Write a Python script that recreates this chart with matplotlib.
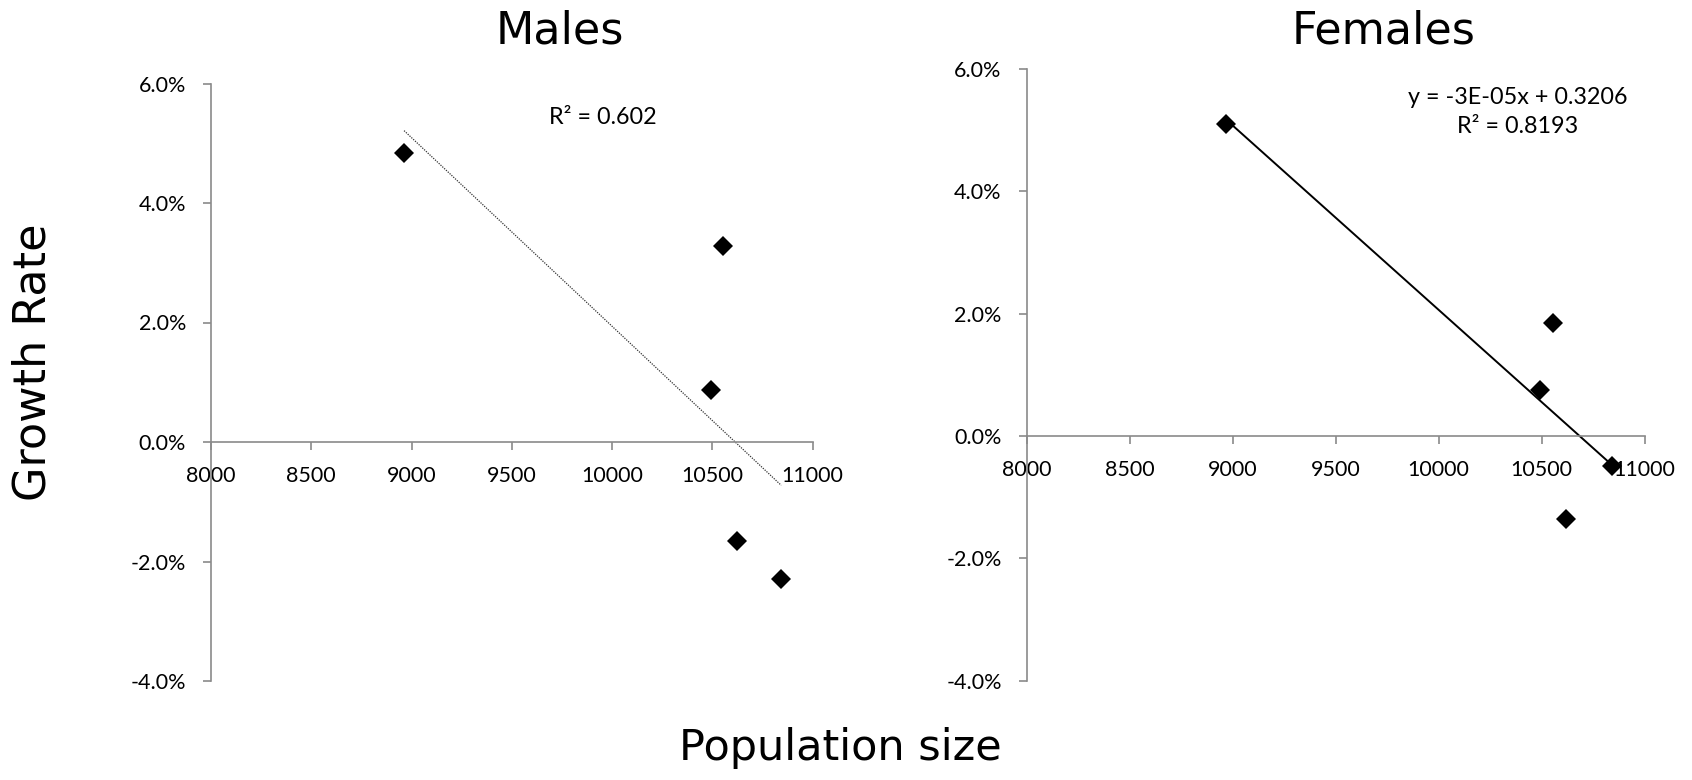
import numpy as np
import matplotlib
matplotlib.use("Agg")
import matplotlib.pyplot as plt
from matplotlib.ticker import PercentFormatter

plt.rcParams['font.family'] = ['Lato', 'DejaVu Sans']
plt.rcParams['axes.unicode_minus'] = False

# population size vs growth rate
male_pop = [8963, 10493, 10556, 10621, 10844]
male_growth = [0.0484, 0.0087, 0.0328, -0.0166, -0.0230]
female_pop = [8969, 10492, 10556, 10618, 10843]
female_growth = [0.0510, 0.0075, 0.0184, -0.0135, -0.0049]

male_label = "R² = 0.602"
female_label = "y = -3E-05x + 0.3206\nR² = 0.8193"

x_ticks = [8000, 8500, 9000, 9500, 10000, 10500, 11000]
y_ticks = [-0.04, -0.02, 0.0, 0.02, 0.04, 0.06]

W, H = 1692, 780
fig = plt.figure(figsize=(W / 100, H / 100), dpi=100)

axis_col = "#8a8a8a"


def box(l, r, t, b):
    return [l / W, 1 - b / H, (r - l) / W, (b - t) / H]


def style(ax):
    ax.set_xlim(8000, 11000)
    ax.set_ylim(-0.04, 0.06)
    ax.set_xticks(x_ticks)
    ax.set_yticks(y_ticks)
    ax.yaxis.set_major_formatter(PercentFormatter(xmax=1, decimals=1))
    ax.spines['top'].set_visible(False)
    ax.spines['right'].set_visible(False)
    ax.spines['bottom'].set_position(('data', 0))
    for s in ('left', 'bottom'):
        ax.spines[s].set_color(axis_col)
        ax.spines[s].set_linewidth(1.2)
    ax.tick_params(axis='y', direction='out', length=6, width=1.2, color=axis_col,
                   pad=12, labelsize=15.5)
    ax.tick_params(axis='x', direction='out', length=6, width=1.2, color=axis_col,
                   pad=11, labelsize=15.5)


def trend(ax, x, y, **kw):
    k, b = np.polyfit(x, y, 1)
    xs = np.array([min(x), max(x)])
    ax.plot(xs, k * xs + b, **kw)


ax1 = fig.add_axes(box(211, 812.5, 83.5, 681))
style(ax1)
trend(ax1, male_pop, male_growth, color="#333333", lw=0.9, ls=(0, (1, 1)), zorder=2)
ax1.plot(male_pop, male_growth, ls='none', marker='D', ms=10, color='black', mew=0, zorder=3)

ax2 = fig.add_axes(box(1026.7, 1644.7, 69, 680.6))
style(ax2)
trend(ax2, female_pop, female_growth, color="black", lw=1.4, zorder=2)
ax2.plot(female_pop, female_growth, ls='none', marker='D', ms=10, color='black', mew=0, zorder=3)

# trendline labels
fig.text(603 / W, 1 - 118 / H, male_label, fontsize=16.8, ha='center', va='center')
fig.text(1518 / W, 1 - 112 / H, female_label, fontsize=16.8, ha='center', va='center',
         linespacing=1.45)

fig.text(560 / W, 1 - 31 / H, "Males", fontsize=32, family='DejaVu Sans', ha='center', va='center')
fig.text(1384 / W, 1 - 31 / H, "Females", fontsize=32, family='DejaVu Sans', ha='center', va='center')
fig.text(33 / W, 1 - 362 / H, "Growth Rate", fontsize=32, family='DejaVu Sans', rotation=90,
         ha='center', va='center')
fig.text(840 / W, 1 - 748 / H, "Population size", fontsize=31, family='DejaVu Sans',
         ha='center', va='center')

fig.savefig("out.png", dpi=100)
